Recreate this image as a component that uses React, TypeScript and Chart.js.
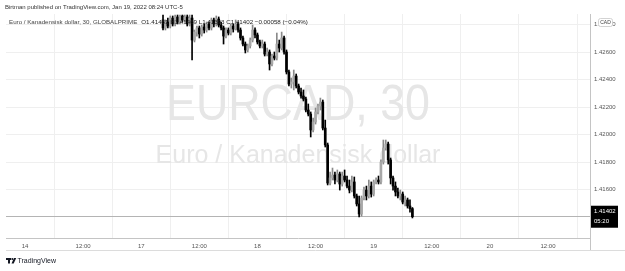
import React, { useEffect, useRef } from "react";
import { Chart, registerables } from "chart.js";

Chart.register(...registerables);

// 30-minute bars; slot 0 = Jan 14 00:00 on the trading-time axis
const firstSlot = 57;
const opens = [
  1.42833, 1.42775, 1.42818, 1.42789, 1.42847, 1.42804, 1.42855, 1.42818, 1.42862, 1.42833, 1.42855, 1.42804,
  1.42847, 1.42687, 1.42745, 1.42775, 1.42731, 1.42782, 1.42760, 1.42804, 1.42775, 1.42833, 1.42804, 1.42840,
  1.42796, 1.42775, 1.42716, 1.42760, 1.42738, 1.42789, 1.42767, 1.42804, 1.42760, 1.42702, 1.42658, 1.42615,
  1.42644, 1.42687, 1.42760, 1.42724, 1.42673, 1.42644, 1.42658, 1.42585, 1.42600, 1.42513, 1.42571, 1.42556,
  1.42658, 1.42629, 1.42702, 1.42600, 1.42455, 1.42367, 1.42382, 1.42425, 1.42353, 1.42309, 1.42280, 1.42258,
  1.42178, 1.42149, 1.42033, 1.42091, 1.42164, 1.42207, 1.42236, 1.42047, 1.41924, 1.41647, 1.41684, 1.41705,
  1.41669, 1.41713, 1.41640, 1.41698, 1.41669, 1.41625, 1.41596, 1.41655, 1.41553, 1.41495, 1.41422, 1.41538,
  1.41596, 1.41553, 1.41625, 1.41567, 1.41655, 1.41669, 1.41655, 1.41800, 1.41902, 1.41931, 1.41815, 1.41684,
  1.41625, 1.41582, 1.41553, 1.41567, 1.41509, 1.41524, 1.41480, 1.41461,
];
const highs = [
  1.42869, 1.42833, 1.42847, 1.42862, 1.42862, 1.42869, 1.42869, 1.42869, 1.42869, 1.42869, 1.42869, 1.42869,
  1.42869, 1.42760, 1.42789, 1.42789, 1.42796, 1.42804, 1.42818, 1.42818, 1.42847, 1.42847, 1.42862, 1.42855,
  1.42818, 1.42789, 1.42775, 1.42775, 1.42804, 1.42804, 1.42833, 1.42818, 1.42775, 1.42716, 1.42673, 1.42658,
  1.42702, 1.42796, 1.42775, 1.42738, 1.42687, 1.42687, 1.42673, 1.42629, 1.42615, 1.42585, 1.42600, 1.42738,
  1.42687, 1.42745, 1.42716, 1.42615, 1.42469, 1.42411, 1.42469, 1.42440, 1.42367, 1.42338, 1.42324, 1.42273,
  1.42222, 1.42164, 1.42120, 1.42193, 1.42222, 1.42265, 1.42251, 1.42105, 1.41938, 1.41727, 1.41756, 1.41727,
  1.41742, 1.41727, 1.41727, 1.41742, 1.41698, 1.41669, 1.41698, 1.41691, 1.41567, 1.41553, 1.41553, 1.41618,
  1.41625, 1.41669, 1.41655, 1.41669, 1.41684, 1.41698, 1.41815, 1.41960, 1.41960, 1.41945, 1.41829, 1.41698,
  1.41655, 1.41611, 1.41596, 1.41582, 1.41553, 1.41538, 1.41524, 1.41469,
];
const lows = [
  1.42760, 1.42760, 1.42775, 1.42775, 1.42789, 1.42789, 1.42804, 1.42804, 1.42818, 1.42818, 1.42789, 1.42789,
  1.42542, 1.42673, 1.42716, 1.42702, 1.42716, 1.42738, 1.42745, 1.42760, 1.42760, 1.42782, 1.42789, 1.42782,
  1.42760, 1.42658, 1.42702, 1.42724, 1.42724, 1.42745, 1.42760, 1.42745, 1.42687, 1.42644, 1.42593, 1.42600,
  1.42629, 1.42673, 1.42702, 1.42658, 1.42629, 1.42629, 1.42571, 1.42571, 1.42469, 1.42498, 1.42542, 1.42542,
  1.42600, 1.42615, 1.42585, 1.42440, 1.42353, 1.42338, 1.42324, 1.42338, 1.42295, 1.42265, 1.42244, 1.42164,
  1.42135, 1.41982, 1.42018, 1.42076, 1.42149, 1.42178, 1.42033, 1.41909, 1.41633, 1.41633, 1.41669, 1.41640,
  1.41655, 1.41596, 1.41625, 1.41655, 1.41611, 1.41575, 1.41582, 1.41538, 1.41480, 1.41400, 1.41407, 1.41524,
  1.41524, 1.41538, 1.41545, 1.41553, 1.41640, 1.41640, 1.41640, 1.41785, 1.41887, 1.41785, 1.41640, 1.41596,
  1.41553, 1.41538, 1.41524, 1.41495, 1.41480, 1.41465, 1.41436, 1.41393,
];
const closes = [
  1.42775, 1.42818, 1.42789, 1.42847, 1.42804, 1.42855, 1.42818, 1.42862, 1.42833, 1.42855, 1.42804, 1.42847,
  1.42687, 1.42745, 1.42775, 1.42731, 1.42782, 1.42760, 1.42804, 1.42775, 1.42833, 1.42804, 1.42840, 1.42796,
  1.42775, 1.42716, 1.42760, 1.42738, 1.42789, 1.42767, 1.42804, 1.42760, 1.42702, 1.42658, 1.42615, 1.42644,
  1.42687, 1.42760, 1.42724, 1.42673, 1.42644, 1.42658, 1.42585, 1.42600, 1.42513, 1.42571, 1.42556, 1.42658,
  1.42629, 1.42702, 1.42600, 1.42455, 1.42367, 1.42382, 1.42425, 1.42353, 1.42309, 1.42280, 1.42258, 1.42178,
  1.42149, 1.42033, 1.42091, 1.42164, 1.42207, 1.42236, 1.42047, 1.41924, 1.41647, 1.41684, 1.41705, 1.41669,
  1.41713, 1.41640, 1.41698, 1.41669, 1.41625, 1.41596, 1.41655, 1.41553, 1.41495, 1.41422, 1.41538, 1.41596,
  1.41553, 1.41625, 1.41567, 1.41655, 1.41669, 1.41655, 1.41800, 1.41902, 1.41931, 1.41815, 1.41684, 1.41625,
  1.41582, 1.41553, 1.41567, 1.41509, 1.41524, 1.41480, 1.41461, 1.41402,
];

const timeTickSlots = [0, 24, 48, 72, 96, 120, 144, 168, 192, 216];
const timeTickLabels = ["14", "12:00", "17", "12:00", "18", "12:00", "19", "12:00", "20", "12:00"];
const priceTicks = [1.416, 1.418, 1.42, 1.422, 1.424, 1.426, 1.428];

const publishedText = "Birtman published on TradingView.com, Jan 19, 2022 08:24 UTC-5";
const legendTitle = "Euro / Kanadensisk dollar, 30, GLOBALPRIME";
const legendValues = "O1.41461 H1.41469 L1.41393 C1.41402 \u22120.00058 (\u22120.04%)";
const watermarkSymbol = "EURCAD, 30";
const watermarkName = "Euro / Kanadensisk dollar";
const countdown = "05:20";

const FONT = "'Liberation Sans', Arial, sans-serif";

export default function App() {
  const ref = useRef<HTMLCanvasElement | null>(null);

  useEffect(() => {
    document.body.style.margin = "0";
    const canvas = ref.current;
    if (!canvas) return;

    const slots = closes.map((_, k) => firstSlot + k);
    const bear = closes.map((c, k) => c < opens[k]);
    const wickColors = bear.map((b) => (b ? "#000000" : "#8a8a8a"));
    const bodyColors = bear.map((b) => (b ? "#000000" : "#a8a8a8"));
    const lastClose = closes[closes.length - 1];

    const decor = {
      id: "decor",
      beforeDatasetsDraw(chart: any) {
        const { ctx, chartArea, scales } = chart;
        const cx = (chartArea.left + chartArea.right) / 2;
        ctx.save();
        ctx.fillStyle = "#e6e6e6";
        ctx.textAlign = "center";
        ctx.textBaseline = "alphabetic";
        ctx.font = `50px ${FONT}`;
        ctx.fillText(watermarkSymbol, cx, 120, 264);
        ctx.font = `25px ${FONT}`;
        ctx.fillText(watermarkName, cx, 163, 292);
        const py = Math.round(scales.y.getPixelForValue(lastClose)) - 0.5;
        ctx.strokeStyle = "#b4b4b4";
        ctx.lineWidth = 1;
        ctx.beginPath();
        ctx.moveTo(chartArea.left, py);
        ctx.lineTo(chartArea.right, py);
        ctx.stroke();
        ctx.restore();
      },
      afterDraw(chart: any) {
        const { ctx, chartArea, scales } = chart;
        ctx.save();
        // header texts
        ctx.textAlign = "left";
        ctx.textBaseline = "middle";
        ctx.fillStyle = "#333333";
        ctx.font = `6px ${FONT}`;
        ctx.fillText(publishedText, 5, 7, 186);
        ctx.fillStyle = "#444444";
        ctx.font = `6.2px ${FONT}`;
        ctx.fillText(legendTitle, 9, 22);
        const tw = ctx.measureText(legendTitle).width;
        ctx.fillStyle = "#222222";
        ctx.fillText(legendValues, 9 + tw + 4, 22, 308 - (9 + tw + 4));

        // CAD badge
        ctx.fillStyle = "#ffffff";
        ctx.strokeStyle = "#c8c8c8";
        ctx.lineWidth = 0.8;
        ctx.beginPath();
        (ctx as any).roundRect(598.5, 18.5, 14, 8, 2);
        ctx.fill();
        ctx.stroke();
        ctx.fillStyle = "#444444";
        ctx.textAlign = "center";
        ctx.font = `5px ${FONT}`;
        ctx.fillText("CAD", 605.5, 22.5);

        // last price label
        const py = scales.y.getPixelForValue(lastClose);
        ctx.fillStyle = "#000000";
        ctx.fillRect(chartArea.right + 1, py - 11, 27, 22);
        ctx.fillStyle = "#ffffff";
        ctx.textAlign = "left";
        ctx.font = `6px ${FONT}`;
        ctx.fillText(lastClose.toFixed(5), chartArea.right + 4, py - 5);
        ctx.fillText(countdown, chartArea.right + 4, py + 5);

        // time axis frame
        ctx.strokeStyle = "#dcdcdc";
        ctx.lineWidth = 1;
        ctx.beginPath();
        ctx.moveTo(chartArea.left, 250.5);
        ctx.lineTo(625, 250.5);
        ctx.stroke();
        ctx.strokeStyle = "#c4c4c4";
        ctx.beginPath();
        ctx.moveTo(chartArea.right + 0.5, chartArea.bottom);
        ctx.lineTo(chartArea.right + 0.5, 250);
        ctx.stroke();

        // footer logo
        ctx.fillStyle = "#131722";
        ctx.fillRect(6, 258, 5, 2);
        ctx.fillRect(8, 258, 2, 5.5);
        ctx.beginPath();
        ctx.arc(12.3, 259, 1, 0, Math.PI * 2);
        ctx.fill();
        ctx.beginPath();
        ctx.moveTo(14, 258);
        ctx.lineTo(16.2, 258);
        ctx.lineTo(13.7, 263.5);
        ctx.lineTo(11.5, 263.5);
        ctx.closePath();
        ctx.fill();
        ctx.font = `7px ${FONT}`;
        ctx.textBaseline = "middle";
        ctx.fillText("TradingView", 17.5, 261);
        ctx.restore();
      },
    };

    const chart = new Chart(canvas, {
      type: "bar",
      data: {
        datasets: [
          {
            data: slots.map((x, k) => ({ x, y: [opens[k], closes[k]] })) as any,
            backgroundColor: bodyColors,
            barThickness: 2,
            grouped: false,
            order: 1,
          } as any,
          {
            data: slots.map((x, k) => ({ x, y: [lows[k], highs[k]] })) as any,
            backgroundColor: wickColors,
            barThickness: 1,
            grouped: false,
            order: 2,
          } as any,
        ],
      },
      options: {
        animation: false,
        responsive: false,
        devicePixelRatio: 1,
        events: [],
        layout: { padding: { left: 6, top: 14, right: 0, bottom: 0 } },
        plugins: { legend: { display: false }, tooltip: { enabled: false } },
        scales: {
          x: {
            type: "linear",
            min: -7.85,
            max: 233.35,
            offset: false,
            afterBuildTicks: (s: any) => {
              s.ticks = timeTickSlots.map((v) => ({ value: v }));
            },
            afterFit: (s: any) => {
              s.height = 33;
            },
            ticks: {
              autoSkip: false,
              maxRotation: 0,
              padding: 5,
              color: "#555555",
              font: { size: 6, family: FONT },
              callback: (_v: any, i: number) => timeTickLabels[i],
            },
            grid: { color: "#efefef", drawTicks: false },
            border: { display: true, color: "#c4c4c4" },
          },
          y: {
            type: "linear",
            position: "right",
            min: 1.412473,
            max: 1.428764,
            afterBuildTicks: (s: any) => {
              s.ticks = priceTicks.map((v) => ({ value: v }));
            },
            afterFit: (s: any) => {
              s.width = 35;
            },
            ticks: {
              padding: 4,
              color: "#555555",
              font: { size: 6, family: FONT },
              callback: (v: any) => Number(v).toFixed(5),
            },
            grid: { color: "#efefef", drawTicks: false },
            border: { display: true, color: "#c4c4c4" },
          },
        },
      },
      plugins: [decor],
    });
    return () => chart.destroy();
  }, []);

  return (
    <div style={{ width: 625, height: 271, position: "relative" }}>
      <canvas ref={ref} width={625} height={271} style={{ display: "block" }} />
    </div>
  );
}
